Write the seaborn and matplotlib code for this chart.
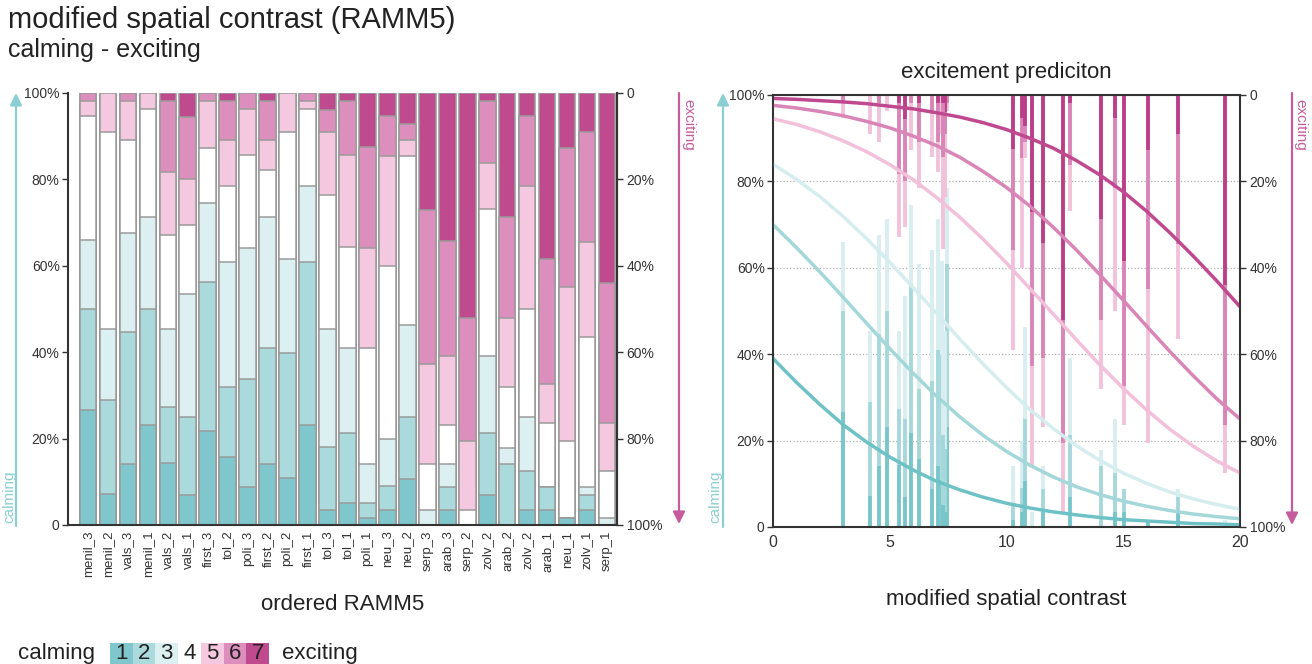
import numpy as np
import pandas as pd
import matplotlib.pyplot as plt
import seaborn as sns
from matplotlib.colors import ListedColormap

# stimuli in RAMM5 order, share of answers (%) per rating level 1..7
stimuli = ['menil_3', 'menil_2', 'vals_3', 'menil_1', 'vals_2', 'vals_1', 'first_3',
           'tol_2', 'poli_3', 'first_2', 'poli_2', 'first_1', 'tol_3', 'tol_1',
           'poli_1', 'neu_3', 'neu_2', 'serp_3', 'arab_3', 'serp_2', 'zolv_2',
           'arab_2', 'zolv_2', 'arab_1', 'neu_1', 'zolv_1', 'serp_1']
level_1 = [26.6, 7.1, 14.1, 23.1, 14.4, 7.0, 21.8, 15.8, 8.9, 14.1, 10.8, 23.1, 3.5, 5.0,
           1.7, 3.5, 10.6, 0.0, 3.5, 0.0, 7.0, 0.0, 3.5, 3.5, 1.7, 3.5, 0.0]
level_2 = [23.4, 21.9, 30.5, 26.9, 12.8, 17.9, 34.5, 16.2, 24.9, 26.8, 29.0, 37.7, 14.5, 16.2,
           3.5, 5.5, 14.3, 0.0, 5.4, 0.0, 14.2, 14.1, 8.9, 5.4, 0.0, 3.5, 0.0]
level_3 = [16.0, 16.3, 23.1, 21.4, 18.1, 28.6, 18.2, 28.8, 30.4, 30.5, 21.8, 17.7, 27.3, 19.7,
           8.9, 10.8, 21.4, 3.5, 5.2, 0.0, 18.0, 3.7, 12.5, 0.0, 0.0, 1.9, 1.7]
level_4 = [28.6, 45.7, 21.5, 25.0, 21.9, 16.0, 12.8, 17.7, 21.5, 10.7, 29.4, 17.9, 31.1, 23.4,
           26.8, 40.2, 39.2, 10.6, 9.0, 3.5, 33.9, 14.2, 25.1, 14.7, 17.8, 34.6, 10.9]
level_5 = [3.6, 9.0, 9.0, 3.6, 14.5, 10.7, 10.9, 10.7, 10.7, 7.1, 9.0, 1.8, 14.6, 21.4,
           23.2, 25.5, 3.7, 23.2, 16.1, 16.0, 10.7, 16.0, 28.5, 9.1, 35.7, 21.9, 11.0]
level_6 = [1.8, 0.0, 1.8, 0.0, 16.5, 14.2, 1.8, 9.0, 3.6, 9.0, 0.0, 1.8, 5.1, 12.5,
           23.4, 9.1, 3.7, 35.7, 26.6, 28.5, 14.4, 23.4, 16.1, 28.8, 32.1, 25.5, 32.5]
level_7 = [0.0, 0.0, 0.0, 0.0, 1.8, 5.6, 0.0, 1.8, 0.0, 1.8, 0.0, 0.0, 3.9, 1.8,
           12.5, 5.4, 7.1, 27.0, 34.2, 52.0, 1.8, 28.6, 5.4, 38.5, 12.7, 9.1, 43.9]
# modified spatial contrast of each stimulus
contrast = [3.01, 4.15, 4.55, 4.90, 5.40, 5.65, 5.90, 6.27, 6.80, 7.08, 7.22, 7.47, 7.37, 7.30,
            10.27, 10.68, 10.79, 11.10, 11.58, 12.43, 12.72, 14.05, 14.65, 15.03, 16.05, 17.36, 19.36]

# predicted cumulative probability P(rating <= k), read at x = 0..20
curve_x = list(range(21))
pred_1 = [39.0, 33.5, 28.4, 23.7, 19.7, 16.2, 13.2, 10.6, 8.6, 6.9, 5.5, 4.4, 3.5, 2.8, 2.2,
          1.7, 1.4, 1.1, 0.8, 0.7, 0.5]
pred_2 = [70.0, 64.7, 59.1, 53.2, 47.2, 41.3, 35.6, 30.3, 25.5, 21.2, 17.5, 14.3, 11.6, 9.3,
          7.5, 6.0, 4.8, 3.8, 3.0, 2.4, 1.9]
pred_3 = [84.0, 80.5, 76.5, 71.9, 66.8, 61.3, 55.4, 49.5, 43.5, 37.7, 32.3, 27.2, 22.8, 18.8,
          15.4, 12.5, 10.1, 8.1, 6.5, 5.2, 4.1]
pred_4 = [94.5, 93.2, 91.5, 89.4, 86.9, 83.9, 80.4, 76.3, 71.7, 66.6, 61.1, 55.2, 49.3, 43.3,
          37.5, 32.1, 27.1, 22.6, 18.7, 15.3, 12.5]
pred_5 = [97.6, 97.0, 96.2, 95.2, 93.9, 92.4, 90.5, 88.3, 85.6, 82.3, 78.6, 74.3, 69.4, 64.1,
          58.4, 52.5, 46.5, 40.6, 35.0, 29.7, 25.0]
pred_6 = [99.2, 99.0, 98.7, 98.4, 98.0, 97.4, 96.8, 95.9, 94.9, 93.6, 92.0, 90.0, 87.7, 84.8,
          81.5, 77.6, 73.1, 68.1, 62.7, 57.0, 51.0]

ticks = [0, 20, 40, 60, 80, 100]
left_labels = ['0', '20%', '40%', '60%', '80%', '100%']
right_labels = ['0', '20%', '40%', '60%', '80%', '100%']

palette = ['#7fc7cc', '#abdadd', '#dcf0f1', '#ffffff', '#f4c9df', '#dc8fbd', '#bf4a8d']
line_colors = ['#78c5ca', '#a6d8db', '#d8eef0', '#ffffff', '#f2c2db', '#d985b7', '#bb3f88']
curve_colors = ['#6ec2c6', '#a3d7da', '#d6edef', '#f2c0da', '#d985b7', '#c0488f']
teal = '#8bcfd2'
pink = '#c65c9c'
dark = '#333333'

sns.set_theme(style='white')
plt.rcParams['font.family'] = ['Liberation Sans', 'DejaVu Sans']
plt.rcParams['axes.edgecolor'] = dark
plt.rcParams['xtick.color'] = dark
plt.rcParams['ytick.color'] = dark

W, H = 1312, 664
fig = plt.figure(figsize=(W / 100, H / 100), dpi=100)


def box(x0, y_top, x1, y_bot):
    return [x0 / W, 1 - y_bot / H, (x1 - x0) / W, (y_bot - y_top) / H]


def fp(x, y):
    return (x / W, 1 - y / H)


# ---- left: stacked bars of the ratings
ax = fig.add_axes(box(68, 93, 617, 525))
shares = np.array([level_1, level_2, level_3, level_4, level_5, level_6, level_7])
cum = np.cumsum(shares, axis=0)
idx = np.arange(len(stimuli))
for k in range(6, -1, -1):
    sns.barplot(x=idx, y=cum[k], color=palette[k], saturation=1, width=0.83,
                edgecolor='#9a9a9a', linewidth=1.1, ax=ax)
ax.set_xlim(-1.0, 26.5)
ax.set_ylim(0, 100)
ax.set_yticks(ticks)
ax.set_yticklabels(left_labels, fontsize=10)
ax.set_xticks(idx)
ax.set_xticklabels(stimuli, rotation=90, fontsize=9.5)
ax.tick_params(axis='both', length=4, width=1, color=dark, pad=2)
ax.tick_params(axis='x', length=0, pad=4)
ax.set_xlabel('ordered RAMM5', fontsize=16, labelpad=12, color='#222')
ax.set_ylabel('')
ax.spines['top'].set_visible(False)
for s in ['left', 'bottom', 'right']:
    ax.spines[s].set_linewidth(1.5)
ax2 = ax.twinx()
ax2.set_ylim(100, 0)
ax2.set_yticks(ticks)
ax2.set_yticklabels(right_labels, fontsize=10)
ax2.tick_params(axis='y', length=4, width=1, color=dark, pad=3)
ax2.spines['top'].set_visible(False)
ax2.spines['right'].set_linewidth(1.5)

# ---- right: prediction curves over contrast
axr = fig.add_axes(box(773, 95, 1240, 527))
for i, xc in enumerate(contrast):
    for k in [0, 1, 2, 4, 5, 6]:
        lo = cum[k - 1, i] if k > 0 else 0
        hi = cum[k, i]
        if hi - lo > 0:
            axr.vlines(xc, lo, hi, color=line_colors[k], lw=2.8, zorder=2)

curves = pd.DataFrame({
    'x': curve_x * 6,
    'p': pred_1 + pred_2 + pred_3 + pred_4 + pred_5 + pred_6,
    'level': sum([[str(k)] * len(curve_x) for k in range(1, 7)], []),
})
sns.lineplot(data=curves, x='x', y='p', hue='level', palette=curve_colors,
             linewidth=2.5, legend=False, ax=axr, zorder=3)
axr.set_xlim(0, 20)
axr.set_ylim(0, 100)
axr.set_xticks([0, 5, 10, 15, 20])
axr.set_xticklabels(['0', '5', '10', '15', '20'], fontsize=11.5)
axr.set_yticks(ticks)
axr.set_yticklabels(left_labels, fontsize=10)
axr.yaxis.grid(True, ls=':', color='#b0b0b0', lw=0.9)
axr.tick_params(axis='both', length=4, width=1, color=dark, pad=2)
axr.set_xlabel('modified spatial contrast', fontsize=16, labelpad=28, color='#222')
axr.set_ylabel('')
axr.set_title('excitement prediciton', fontsize=16, pad=12, color='#222')
for s in axr.spines.values():
    s.set_linewidth(1.5)
axr2 = axr.twinx()
axr2.set_ylim(100, 0)
axr2.set_yticks(ticks)
axr2.set_yticklabels(right_labels, fontsize=10)
axr2.tick_params(axis='y', length=4, width=1, color=dark, pad=3)

# ---- arrows beside the axes
arrow_kw = dict(arrowstyle='-|>', lw=1.6, mutation_scale=18, shrinkA=0, shrinkB=0)
for x, color, y0, y1 in [(16, teal, 526, 93), (679, pink, 93, 524),
                         (723, teal, 527, 93), (1292, pink, 93, 525)]:
    fig.add_artist(plt.matplotlib.patches.FancyArrowPatch(
        fp(x, y0), fp(x, y1), transform=fig.transFigure, color=color, **arrow_kw))
fig.text(*fp(9, 497), 'calming', rotation=90, color=teal, fontsize=11, ha='center', va='center')
fig.text(*fp(715, 497), 'calming', rotation=90, color=teal, fontsize=11, ha='center', va='center')
fig.text(*fp(688, 125), 'exciting', rotation=-90, color=pink, fontsize=11, ha='center', va='center')
fig.text(*fp(1300, 125), 'exciting', rotation=-90, color=pink, fontsize=11, ha='center', va='center')

# ---- titles
fig.text(*fp(8, 20), 'modified spatial contrast (RAMM5)', fontsize=21, color='#222', va='center')
fig.text(*fp(8, 50), 'calming - exciting', fontsize=18, color='#222', va='center')

# ---- colour key
lax = fig.add_axes(box(110, 643, 269, 664))
sns.heatmap([[1, 2, 3, 4, 5, 6, 7]], cmap=ListedColormap(palette), annot=True, cbar=False,
            xticklabels=False, yticklabels=False, ax=lax,
            annot_kws={'fontsize': 16, 'color': '#222'})
fig.text(*fp(18, 653), 'calming', fontsize=16, color='#222', va='center')
fig.text(*fp(282, 653), 'exciting', fontsize=16, color='#222', va='center')

fig.savefig('out.png', dpi=100)
